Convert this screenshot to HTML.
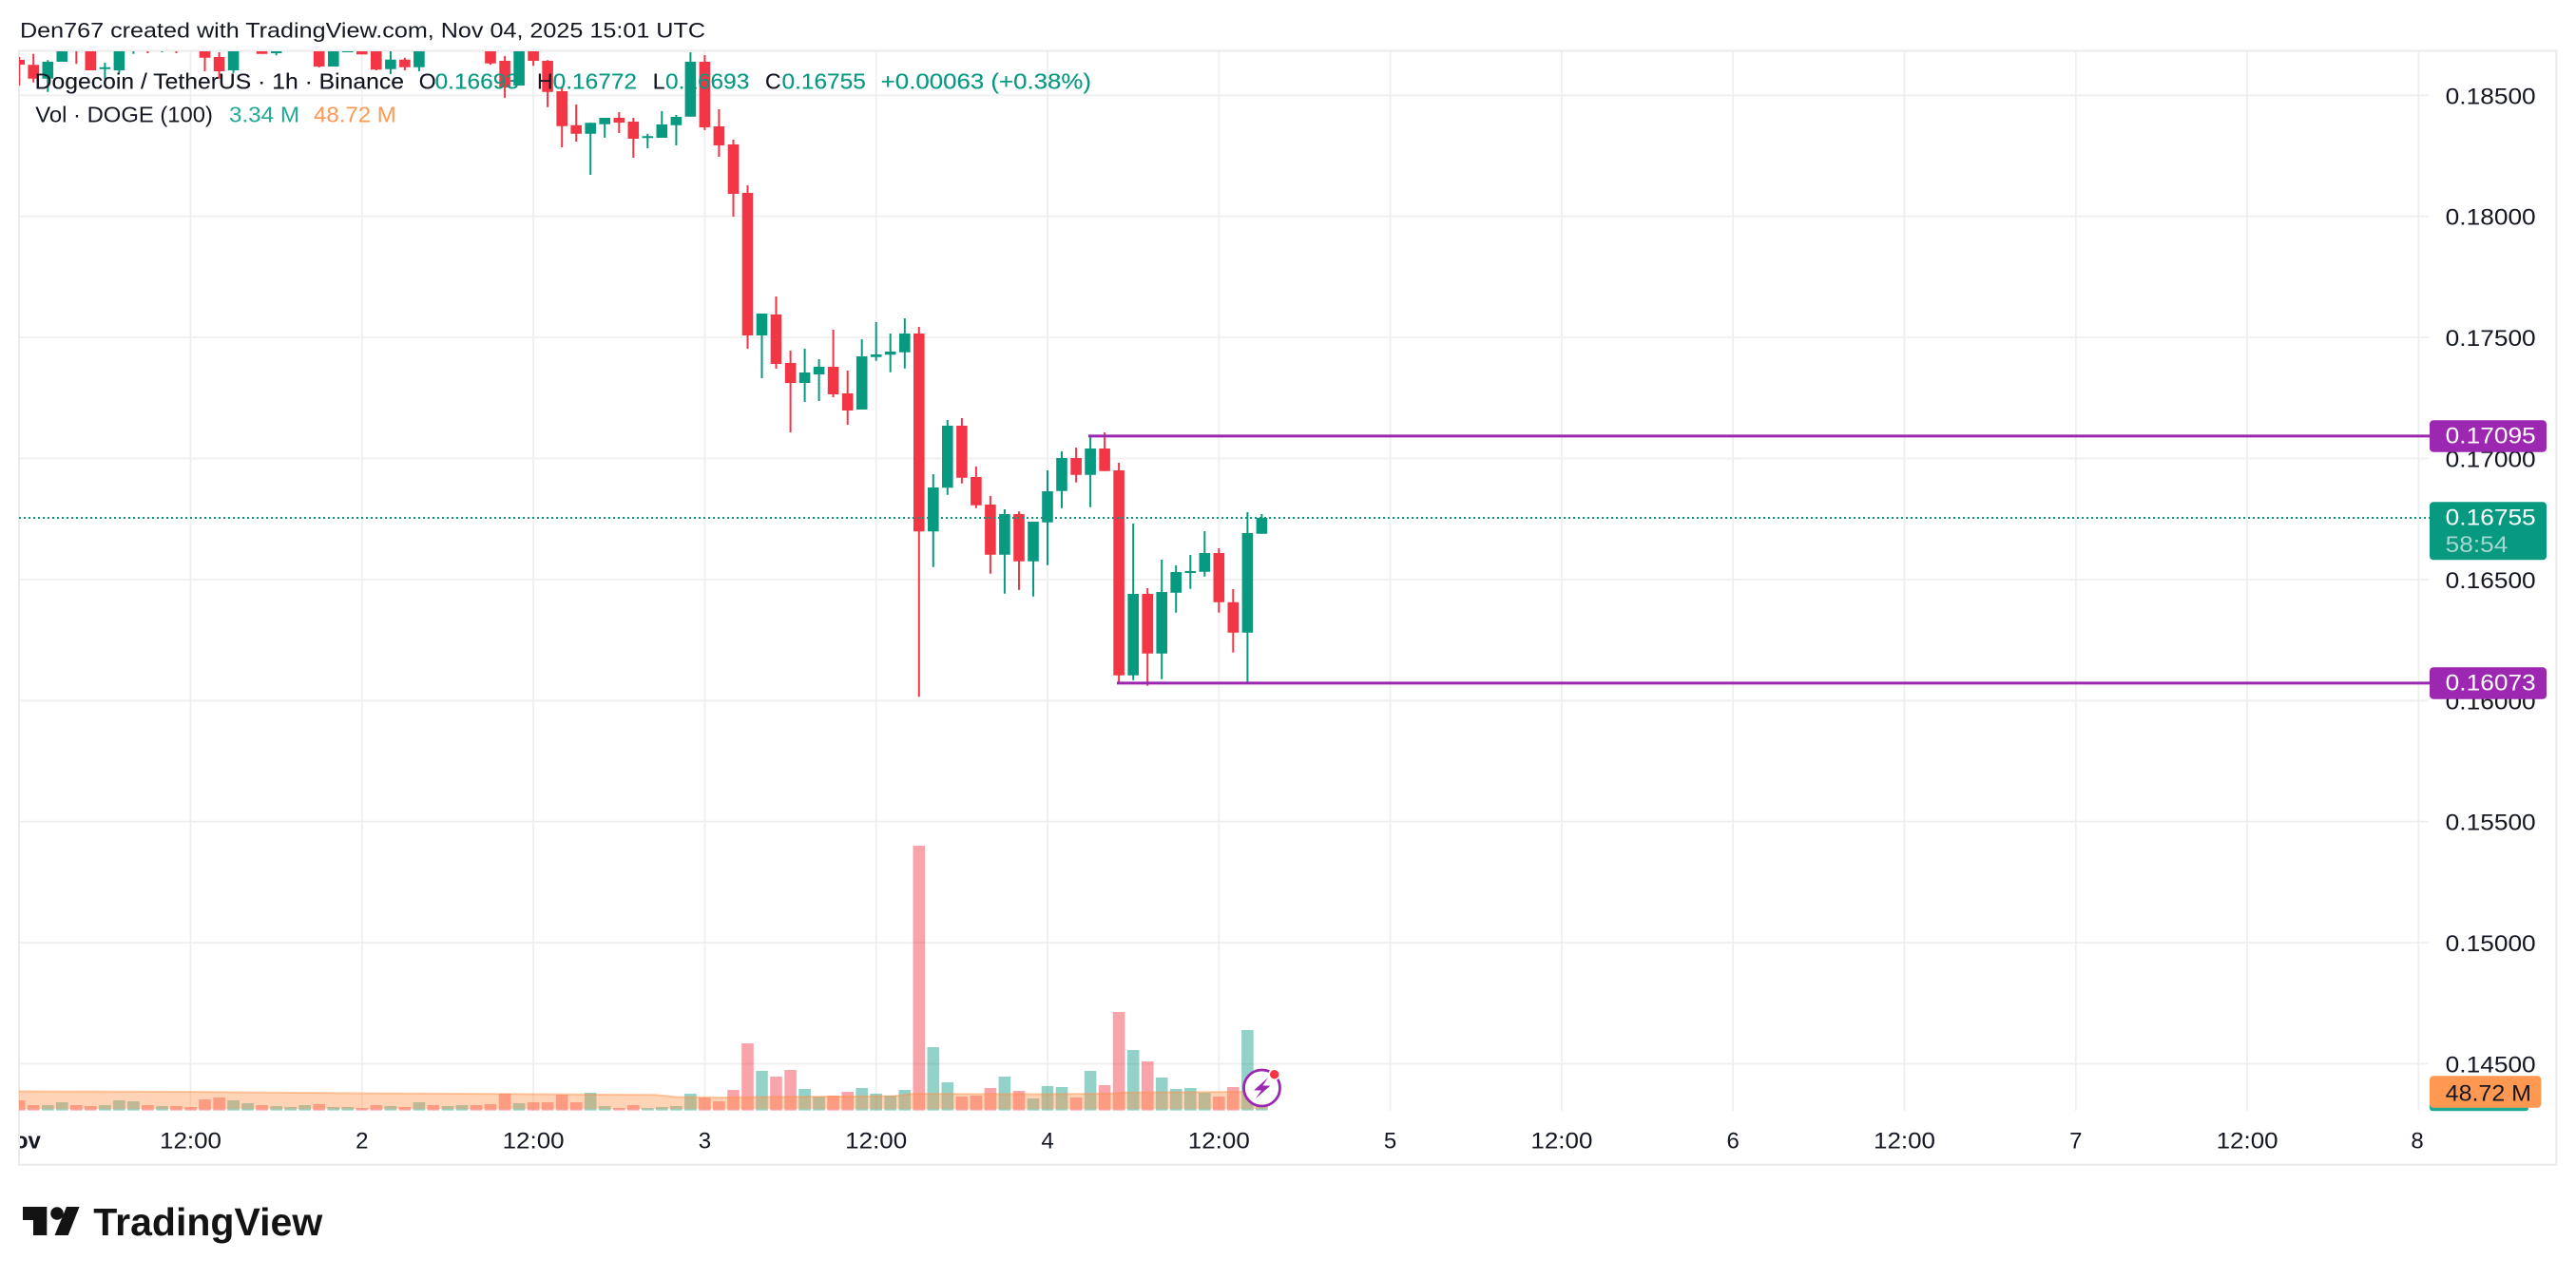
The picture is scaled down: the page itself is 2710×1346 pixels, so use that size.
<!DOCTYPE html>
<html><head><meta charset="utf-8"><style>
html,body{margin:0;padding:0;background:#fff;}
svg{display:block;}
text{font-family:"Liberation Sans",Arial,sans-serif;}
</style></head><body>
<svg width="2710" height="1346" viewBox="0 0 2710 1346" xmlns="http://www.w3.org/2000/svg">
<defs>
<clipPath id="plot"><rect x="20" y="54" width="2536" height="1115"/></clipPath>
<clipPath id="taxis"><rect x="21" y="1170" width="2668" height="55"/></clipPath>
</defs>
<rect width="2710" height="1346" fill="#fff"/>
<text x="21" y="39.3" font-size="22" fill="#131722" textLength="721" lengthAdjust="spacingAndGlyphs">Den767 created with TradingView.com, Nov 04, 2025 15:01 UTC</text>

<!-- grid -->
<g stroke="#efefef" stroke-width="1.8">
<path d="M20 100.3H2555M20 227.7H2555M20 355.1H2555M20 482.5H2555M20 609.9H2555M20 737.3H2555M20 864.7H2555M20 992.1H2555M20 1119.5H2555"/>
<path d="M200.5 54V1169M380.8 54V1169M561.1 54V1169M741.4 54V1169M921.7 54V1169M1102 54V1169M1282.3 54V1169M1462.6 54V1169M1642.9 54V1169M1823.2 54V1169M2003.5 54V1169M2183.8 54V1169M2364.1 54V1169M2544.4 54V1169"/>
</g>
<rect x="20" y="53.5" width="2669.3" height="1172.2" fill="none" stroke="#ebebeb" stroke-width="2"/>

<g clip-path="url(#plot)">
<!-- volume -->
<path fill="none" stroke="rgba(242,54,69,0.46)" stroke-width="12.6" d="M20.2 1168.6V1158M35.2 1168.6V1163M80.3 1168.6V1163M95.3 1168.6V1164M155.4 1168.6V1163M185.5 1168.6V1164M200.5 1168.6V1165M215.5 1168.6V1157M230.6 1168.6V1155M275.6 1168.6V1163M335.7 1168.6V1162M380.8 1168.6V1166M395.8 1168.6V1163M425.9 1168.6V1165M455.9 1168.6V1163M501 1168.6V1163M516 1168.6V1162M531.1 1168.6V1151M561.1 1168.6V1160M576.1 1168.6V1160M591.2 1168.6V1152M606.2 1168.6V1160M651.3 1168.6V1166M666.3 1168.6V1163M741.4 1168.6V1155M756.4 1168.6V1159M771.5 1168.6V1147M786.5 1168.6V1098M816.5 1168.6V1133M831.6 1168.6V1126M876.6 1168.6V1153M891.7 1168.6V1149M966.8 1168.6V890M1011.9 1168.6V1154M1026.9 1168.6V1153M1041.9 1168.6V1145M1072 1168.6V1148M1132.1 1168.6V1155M1162.1 1168.6V1142M1177.1 1168.6V1065M1207.2 1168.6V1117M1282.3 1168.6V1154M1297.3 1168.6V1144"/>
<path fill="none" stroke="rgba(8,153,129,0.44)" stroke-width="12.6" d="M50.3 1168.6V1163M65.3 1168.6V1160M110.4 1168.6V1163M125.4 1168.6V1158M140.4 1168.6V1159M170.5 1168.6V1164M245.6 1168.6V1158M260.6 1168.6V1161M290.7 1168.6V1164M305.7 1168.6V1165M320.7 1168.6V1163M350.8 1168.6V1165M365.8 1168.6V1165M410.9 1168.6V1164M440.9 1168.6V1160M471 1168.6V1164M486 1168.6V1163M546.1 1168.6V1161M621.2 1168.6V1150M636.2 1168.6V1164M681.3 1168.6V1166M696.3 1168.6V1165M711.4 1168.6V1164M726.4 1168.6V1151M801.5 1168.6V1127M846.6 1168.6V1146M861.6 1168.6V1154M906.7 1168.6V1145M921.7 1168.6V1151M936.7 1168.6V1153M951.8 1168.6V1147M981.8 1168.6V1102M996.8 1168.6V1139M1056.9 1168.6V1133M1087 1168.6V1156M1102 1168.6V1143M1117 1168.6V1144M1147.1 1168.6V1127M1192.2 1168.6V1105M1222.2 1168.6V1134M1237.2 1168.6V1146M1252.3 1168.6V1145M1267.3 1168.6V1150M1312.4 1168.6V1084M1327.4 1168.6V1160"/>
<polygon fill="rgba(255,145,70,0.4)" points="20,1148.5 200,1149 380,1150.5 540,1151.3 690,1152.3 712,1154.5 760,1155 800,1154.5 940,1153.5 962,1151 1100,1151.5 1170,1150.8 1182,1149.8 1300,1149 1334,1148.5 1334,1167.3 20,1167.3"/>
<polyline fill="none" stroke="rgba(255,145,70,0.45)" stroke-width="2" points="20,1148.5 200,1149 380,1150.5 540,1151.3 690,1152.3 712,1154.5 760,1155 800,1154.5 940,1153.5 962,1151 1100,1151.5 1170,1150.8 1182,1149.8 1300,1149 1334,1148.5"/>

<!-- legend text (under candles? text on top per reference) -->
</g>

<g font-size="23">
<text x="36.7" y="93.3" fill="#131722" textLength="388.3" lengthAdjust="spacingAndGlyphs">Dogecoin / TetherUS · 1h · Binance</text>
<text x="440.7" y="93.3" fill="#131722">O</text>
<text x="457.6" y="93.3" fill="#089981" textLength="88.3" lengthAdjust="spacingAndGlyphs">0.16693</text>
<text x="565" y="93.3" fill="#131722">H</text>
<text x="581.7" y="93.3" fill="#089981" textLength="88.3" lengthAdjust="spacingAndGlyphs">0.16772</text>
<text x="686.7" y="93.3" fill="#131722">L</text>
<text x="700" y="93.3" fill="#089981" textLength="88.3" lengthAdjust="spacingAndGlyphs">0.16693</text>
<text x="805" y="93.3" fill="#131722">C</text>
<text x="822.5" y="93.3" fill="#089981" textLength="88.3" lengthAdjust="spacingAndGlyphs">0.16755</text>
<text x="926.7" y="93.3" fill="#089981" textLength="221.3" lengthAdjust="spacingAndGlyphs">+0.00063 (+0.38%)</text>
<text x="37.3" y="128.3" fill="#131722" textLength="186.7" lengthAdjust="spacingAndGlyphs">Vol · DOGE (100)</text>
<text x="241" y="128.3" fill="#22ab94" textLength="74" lengthAdjust="spacingAndGlyphs">3.34 M</text>
<text x="330" y="128.3" fill="#ff9850" textLength="86.7" lengthAdjust="spacingAndGlyphs">48.72 M</text>
</g>

<g clip-path="url(#plot)">
<!-- candles -->
<path fill="none" stroke="#f23645" stroke-width="2" d="M20.2 60V90M35.2 56.7V86.7M80.3 30V67.3M95.3 40V74M155.4 30V56M185.5 30V56M215.5 40V75M230.6 55V82.7M275.6 40V56.7M335.7 40V71M380.8 40V57.3M395.8 40V74M425.9 60.7V74M516 40V68.3M531.1 59V103M561.1 40V69.3M576.1 63.3V112.7M591.2 91.7V155M606.2 110V149M651.3 118V140M666.3 124V166M741.4 58V137M756.4 115V165M771.5 147V228M786.5 195V367M816.5 312V388M831.6 369V455M876.6 347V418M891.7 390V447M966.8 344V733.3M1011.9 440V508.7M1026.9 491V534.7M1041.9 522V603.7M1072 538.3V620.7M1132.1 471V507.7M1162.1 455V495.7M1177.1 487V719M1207.2 619V721.7M1282.3 577V644.7M1297.3 620V686.7"/>
<path fill="none" stroke="#f23645" stroke-width="11.6" d="M20.2 63V68M35.2 68.3V82.7M80.3 30V53M95.3 40V74M155.4 30V53M185.5 30V53M215.5 40V60.7M230.6 60V75M275.6 40V56.7M335.7 40V70M380.8 40V57.3M395.8 40V73.3M425.9 62.7V70.7M516 40V66.7M531.1 64V92M561.1 40V64M576.1 64V96.7M591.2 96V132.7M606.2 131.7V140.7M651.3 124V129M666.3 128V146M741.4 65V134M756.4 133V153M771.5 152V204M786.5 203V353M816.5 331V383M831.6 382V403M876.6 386V415M891.7 414V432M966.8 351V559.3M1011.9 448V502.7M1026.9 502V531.7M1041.9 531V583.7M1072 541V590.7M1132.1 482V499.7M1162.1 472V495.7M1177.1 495V710.7M1207.2 625V687.7M1282.3 582V633.7M1297.3 633.7V665.7"/>
<path fill="none" stroke="#089981" stroke-width="2" d="M50.3 63.3V96.7M65.3 40V65M110.4 66V83.3M125.4 40V76.7M140.4 30V56.7M170.5 30V55M245.6 40V76.7M290.7 40V58.3M350.8 40V70M365.8 40V55M410.9 54V78M440.9 40V75M546.1 40V90M621.2 129.3V184M636.2 124V145M681.3 140.7V156M696.3 117V145M711.4 121V153M726.4 55V122.7M801.5 330V398M846.6 367V423M861.6 378V422M906.7 357V431M921.7 339V379.7M936.7 351V391.7M951.8 335V387.7M981.8 499V596.7M996.8 442V520.7M1056.9 536V624.7M1087 549V627.7M1102 495V594.7M1117 475V534.7M1147.1 457.7V533.7M1192.2 551V715.7M1222.2 589V714.7M1237.2 595V644.7M1252.3 584V619.7M1267.3 559V606.7M1312.4 539V718.7M1327.4 541V561.7"/>
<path fill="none" stroke="#089981" stroke-width="11.6" d="M50.3 65V82.7M65.3 40V65M110.4 70.7V72.7M125.4 40V74M140.4 30V53M170.5 30V53M245.6 40V74M290.7 40V56M350.8 40V70M365.8 40V55M410.9 62.7V72.7M440.9 40V70.7M546.1 40V90M621.2 129.3V140.7M636.2 124V130.7M681.3 143.3V145.3M696.3 131V145M711.4 123V131.7M726.4 65V122.7M801.5 330V353M846.6 392V403M861.6 386V394M906.7 375V431M921.7 373V375.7M936.7 370V373.3M951.8 351V370.7M981.8 513V559.3M996.8 448V513.3M1056.9 541V583.7M1087 549V590.7M1102 517V549.7M1117 482V516.7M1147.1 472V499.7M1192.2 625V710.7M1222.2 623V687.7M1237.2 602V623.7M1252.3 601V603M1267.3 582V601.7M1312.4 561V665.7M1327.4 545V561.7"/>
</g>

<!-- legend text on top of candles -->
<g font-size="23">
<text x="36.7" y="93.3" fill="#131722" textLength="388.3" lengthAdjust="spacingAndGlyphs">Dogecoin / TetherUS · 1h · Binance</text>
<text x="440.7" y="93.3" fill="#131722">O</text>
<text x="457.6" y="93.3" fill="#089981" textLength="88.3" lengthAdjust="spacingAndGlyphs">0.16693</text>
<text x="565" y="93.3" fill="#131722">H</text>
<text x="581.7" y="93.3" fill="#089981" textLength="88.3" lengthAdjust="spacingAndGlyphs">0.16772</text>
<text x="686.7" y="93.3" fill="#131722">L</text>
<text x="700" y="93.3" fill="#089981" textLength="88.3" lengthAdjust="spacingAndGlyphs">0.16693</text>
<text x="805" y="93.3" fill="#131722">C</text>
<text x="822.5" y="93.3" fill="#089981" textLength="88.3" lengthAdjust="spacingAndGlyphs">0.16755</text>
<text x="926.7" y="93.3" fill="#089981" textLength="221.3" lengthAdjust="spacingAndGlyphs">+0.00063 (+0.38%)</text>
</g>

<!-- price lines -->
<path d="M20 545H2556" stroke="#089981" stroke-width="2" stroke-dasharray="2 3" fill="none"/>
<path d="M1145 458.9H2556M1175 718.9H2556" stroke="#9c27b0" stroke-width="3" fill="none"/>

<!-- icon -->
<circle cx="1327.5" cy="1145" r="19" fill="#fff" stroke="#9c27b0" stroke-width="2.8"/>
<path d="M1334 1134L1319 1147.5L1327 1147.5L1321 1156L1336.5 1142.5L1328.5 1142.5Z" fill="#9c27b0"/>
<circle cx="1340.7" cy="1130.7" r="5.5" fill="#f23645" stroke="#fff" stroke-width="1.5"/>

<!-- price axis -->
<g font-size="24" fill="#131722">
<text x="2572.7" y="109.3" textLength="95" lengthAdjust="spacingAndGlyphs">0.18500</text>
<text x="2572.7" y="236.7" textLength="95" lengthAdjust="spacingAndGlyphs">0.18000</text>
<text x="2572.7" y="364.1" textLength="95" lengthAdjust="spacingAndGlyphs">0.17500</text>
<text x="2572.7" y="491.5" textLength="95" lengthAdjust="spacingAndGlyphs">0.17000</text>
<text x="2572.7" y="618.9" textLength="95" lengthAdjust="spacingAndGlyphs">0.16500</text>
<text x="2572.7" y="746.3" textLength="95" lengthAdjust="spacingAndGlyphs">0.16000</text>
<text x="2572.7" y="873.7" textLength="95" lengthAdjust="spacingAndGlyphs">0.15500</text>
<text x="2572.7" y="1001.1" textLength="95" lengthAdjust="spacingAndGlyphs">0.15000</text>
<text x="2572.7" y="1128.5" textLength="95" lengthAdjust="spacingAndGlyphs">0.14500</text>
</g>
<rect x="2556" y="442.3" width="123" height="33.4" rx="4" fill="#9c27b0"/>
<text x="2572.7" y="466.7" font-size="24" fill="#fff" textLength="95" lengthAdjust="spacingAndGlyphs">0.17095</text>
<rect x="2556" y="528.3" width="123" height="61" rx="4" fill="#089981"/>
<text x="2572.7" y="552.7" font-size="24" fill="#fff" textLength="95" lengthAdjust="spacingAndGlyphs">0.16755</text>
<text x="2572.7" y="581" font-size="24" fill="rgba(255,255,255,0.62)" textLength="65.6" lengthAdjust="spacingAndGlyphs">58:54</text>
<rect x="2556" y="702.3" width="123" height="33.4" rx="4" fill="#9c27b0"/>
<text x="2572.7" y="726.7" font-size="24" fill="#fff" textLength="95" lengthAdjust="spacingAndGlyphs">0.16073</text>
<rect x="2556" y="1158" width="104" height="11.3" rx="3" fill="#22ab94"/>
<rect x="2556" y="1132.3" width="117.3" height="33.4" rx="4" fill="#ff9850"/>
<text x="2572.7" y="1158.3" font-size="24" fill="#131722" textLength="90.3" lengthAdjust="spacingAndGlyphs">48.72 M</text>

<!-- time axis -->
<g font-size="24" fill="#131722" text-anchor="middle" clip-path="url(#taxis)">
<text x="20.2" y="1208.3" font-weight="bold">Nov</text>
<text x="200.5" y="1208.3" textLength="65" lengthAdjust="spacingAndGlyphs">12:00</text>
<text x="380.8" y="1208.3">2</text>
<text x="561.1" y="1208.3" textLength="65" lengthAdjust="spacingAndGlyphs">12:00</text>
<text x="741.4" y="1208.3">3</text>
<text x="921.7" y="1208.3" textLength="65" lengthAdjust="spacingAndGlyphs">12:00</text>
<text x="1102" y="1208.3">4</text>
<text x="1282.3" y="1208.3" textLength="65" lengthAdjust="spacingAndGlyphs">12:00</text>
<text x="1462.6" y="1208.3">5</text>
<text x="1642.9" y="1208.3" textLength="65" lengthAdjust="spacingAndGlyphs">12:00</text>
<text x="1823.2" y="1208.3">6</text>
<text x="2003.5" y="1208.3" textLength="65" lengthAdjust="spacingAndGlyphs">12:00</text>
<text x="2183.8" y="1208.3">7</text>
<text x="2364.1" y="1208.3" textLength="65" lengthAdjust="spacingAndGlyphs">12:00</text>
<text x="2543" y="1208.3">8</text>
</g>

<!-- logo -->
<g fill="#131313">
<path d="M24 1270H49.3V1300H35V1284H24Z"/>
<circle cx="60" cy="1277" r="6.8"/>
<path d="M70 1270H83.5L71.7 1300H57.5Z"/>
<text x="98.3" y="1300" font-size="41" font-weight="bold" textLength="241" lengthAdjust="spacingAndGlyphs">TradingView</text>
</g>
</svg>
</body></html>
